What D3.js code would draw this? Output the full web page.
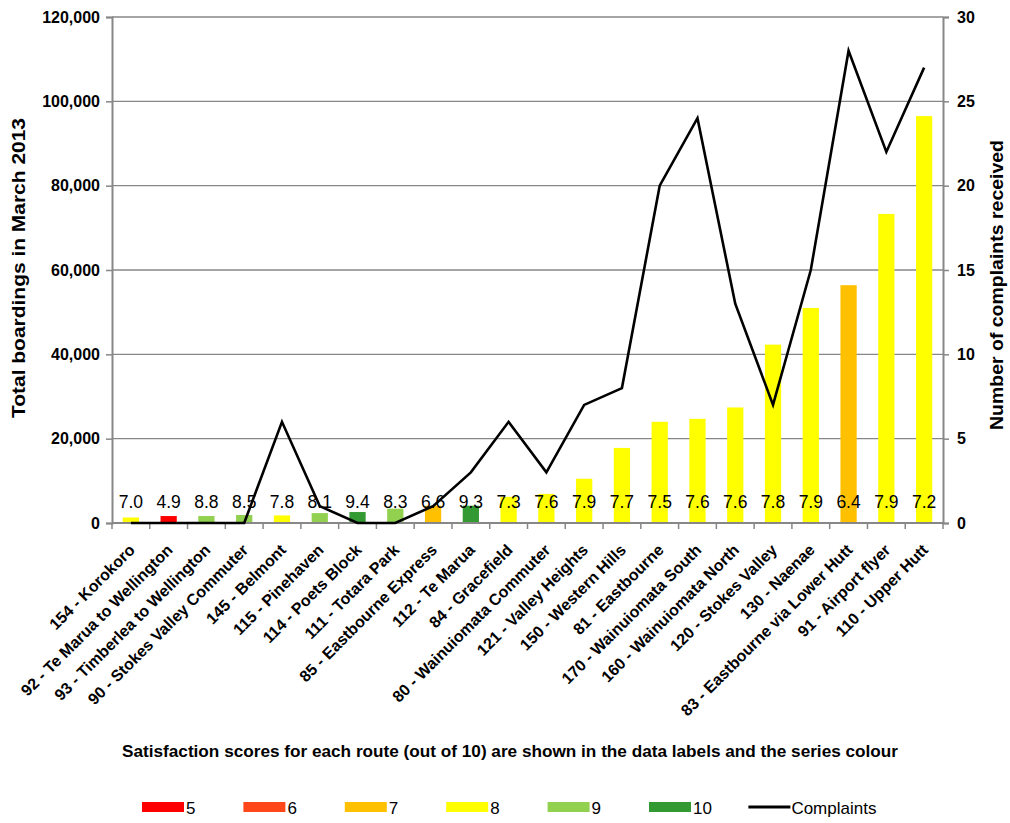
<!DOCTYPE html>
<html>
<head>
<meta charset="utf-8">
<script src="https://cdn.jsdelivr.net/npm/d3@7"></script>
<style>
  html, body { margin: 0; padding: 0; background: #fff; }
  svg { display: block; font-family: "Liberation Sans", Arial, sans-serif; }
</style>
</head>
<body>
<svg id="chart" width="1010" height="823"></svg>
<script>
const routes = [
  "154 - Korokoro", "92 - Te Marua to Wellington", "93 - Timberlea to Wellington",
  "90 - Stokes Valley Commuter", "145 - Belmont", "115 - Pinehaven", "114 - Poets Block",
  "111 - Totara Park", "85 - Eastbourne Express", "112 - Te Marua", "84 - Gracefield",
  "80 - Wainuiomata Commuter", "121 - Valley Heights", "150 - Western Hills", "81 - Eastbourne",
  "170 - Wainuiomata South", "160 - Wainuiomata North", "120 - Stokes Valley", "130 - Naenae",
  "83 - Eastbourne via Lower Hutt", "91 - Airport flyer", "110 - Upper Hutt"
];
const boardings = [1300, 1650, 1650, 1900, 1800, 2350, 2600, 3400, 4100, 4100, 6200,
  6900, 10500, 17800, 24000, 24700, 27400, 42300, 51000, 56400, 73300, 96500];
const scores = [7.0, 4.9, 8.8, 8.5, 7.8, 8.1, 9.4, 8.3, 6.6, 9.3, 7.3, 7.6, 7.9, 7.7, 7.5,
  7.6, 7.6, 7.8, 7.9, 6.4, 7.9, 7.2];
const complaints = [0, 0, 0, 0, 6, 1, 0, 0, 1, 3, 6, 3, 7, 8, 20, 24, 13, 7, 15, 28, 22, 27];
const leftTicks = [0, 20000, 40000, 60000, 80000, 100000, 120000];
const rightTicks = [0, 5, 10, 15, 20, 25, 30];
const legendKeys = ["5", "6", "7", "8", "9", "10"];
const legendColors = ["#FF0000", "#FF4719", "#FFC000", "#FFFF00", "#92D050", "#339933"];

const svg = d3.select("#chart");
const L = 112, R = 943, T = 17, B = 523;
const x = d3.scaleBand().domain(routes).range([L, R]).paddingInner(0.57).paddingOuter(0.285);
const yL = d3.scaleLinear().domain([0, 120000]).range([B, T]);
const yR = d3.scaleLinear().domain([0, 30]).range([B, T]);
// score band -> colour (5: <5, 6: 5-6, 7: 6-7, 8: 7-8, 9: 8-9, 10: 9-10)
const colour = d3.scaleThreshold().domain([5, 6, 7, 8, 9]).range(legendColors);
const grey = "#878787";

// gridlines
svg.append("g").selectAll("line").data(leftTicks.slice(1)).join("line")
  .attr("x1", L).attr("x2", R).attr("y1", d => yL(d)).attr("y2", d => yL(d))
  .attr("stroke", grey).attr("stroke-width", 1.3);

// bars
svg.append("g").selectAll("rect").data(routes).join("rect")
  .attr("x", d => x(d)).attr("width", x.bandwidth())
  .attr("y", (d, i) => yL(boardings[i])).attr("height", (d, i) => B - yL(boardings[i]))
  .attr("fill", (d, i) => colour(scores[i]));

// axes
const axL = svg.append("g").attr("transform", `translate(${L},0)`)
  .call(d3.axisLeft(yL).tickValues(leftTicks).tickFormat(d3.format(",")).tickSize(6).tickPadding(6));
const axR = svg.append("g").attr("transform", `translate(${R},0)`)
  .call(d3.axisRight(yR).tickValues(rightTicks).tickSize(6).tickPadding(8));
[axL, axR].forEach(a => {
  a.select(".domain").attr("stroke", grey).attr("stroke-width", 2);
  a.selectAll(".tick line").attr("stroke", grey).attr("stroke-width", 1.5);
  a.selectAll(".tick text").attr("font-size", 16).attr("font-weight", "bold")
    .attr("font-family", "Liberation Sans, Arial, sans-serif").attr("fill", "#000");
});
// x axis with ticks at band boundaries
const bounds = d3.range(routes.length + 1).map(i => L + i * x.step());
svg.append("line").attr("x1", L).attr("x2", R).attr("y1", B).attr("y2", B)
  .attr("stroke", grey).attr("stroke-width", 2);
svg.append("g").selectAll("line").data(bounds).join("line")
  .attr("x1", d => d).attr("x2", d => d).attr("y1", B).attr("y2", B + 6)
  .attr("stroke", grey).attr("stroke-width", 1.5);

// complaints line
svg.append("path").datum(complaints)
  .attr("fill", "none").attr("stroke", "#000").attr("stroke-width", 2.6)
  .attr("stroke-linejoin", "miter")
  .attr("d", d3.line().x((d, i) => x(routes[i]) + x.bandwidth() / 2).y(d => yR(d)));

// data labels
svg.append("g").selectAll("text").data(scores).join("text")
  .attr("x", (d, i) => x(routes[i]) + x.bandwidth() / 2).attr("y", 508)
  .attr("text-anchor", "middle").attr("font-size", 17.5).attr("fill", "#000")
  .text(d => d.toFixed(1));

// category labels
svg.append("g").selectAll("text").data(routes).join("text")
  .attr("transform", d => `translate(${x(d) + x.bandwidth() / 2 + 5},551) rotate(-45)`)
  .attr("text-anchor", "end").attr("font-size", 16).attr("font-weight", "bold")
  .attr("fill", "#000").text(d => d);

// axis titles
svg.append("text").attr("transform", "translate(25,268) rotate(-90)")
  .attr("text-anchor", "middle").attr("font-size", 19).attr("font-weight", "bold")
  .attr("textLength", 300).attr("lengthAdjust", "spacingAndGlyphs")
  .text("Total boardings in March 2013");
svg.append("text").attr("transform", "translate(1003,285) rotate(-90)")
  .attr("text-anchor", "middle").attr("font-size", 19).attr("font-weight", "bold")
  .attr("textLength", 290).attr("lengthAdjust", "spacingAndGlyphs")
  .text("Number of complaints received");
svg.append("text").attr("x", 510).attr("y", 757)
  .attr("text-anchor", "middle").attr("font-size", 16).attr("font-weight", "bold")
  .attr("textLength", 776).attr("lengthAdjust", "spacingAndGlyphs")
  .text("Satisfaction scores for each route (out of 10) are shown in the data labels and the series colour");

// legend
const lg = svg.append("g");
const lstep = 101.4, lx0 = 142, ly = 807;
legendKeys.forEach((k, i) => {
  const gx = lx0 + i * lstep;
  lg.append("rect").attr("x", gx).attr("y", ly - 5).attr("width", 42).attr("height", 10)
    .attr("fill", legendColors[i]);
  lg.append("text").attr("x", gx + 44).attr("y", ly + 7).attr("font-size", 17).text(k);
});
const cx = lx0 + 6 * lstep - 2;
lg.append("line").attr("x1", cx).attr("x2", cx + 42).attr("y1", ly).attr("y2", ly)
  .attr("stroke", "#000").attr("stroke-width", 3);
lg.append("text").attr("x", cx + 43).attr("y", ly + 7).attr("font-size", 17).text("Complaints");
</script>
</body>
</html>
